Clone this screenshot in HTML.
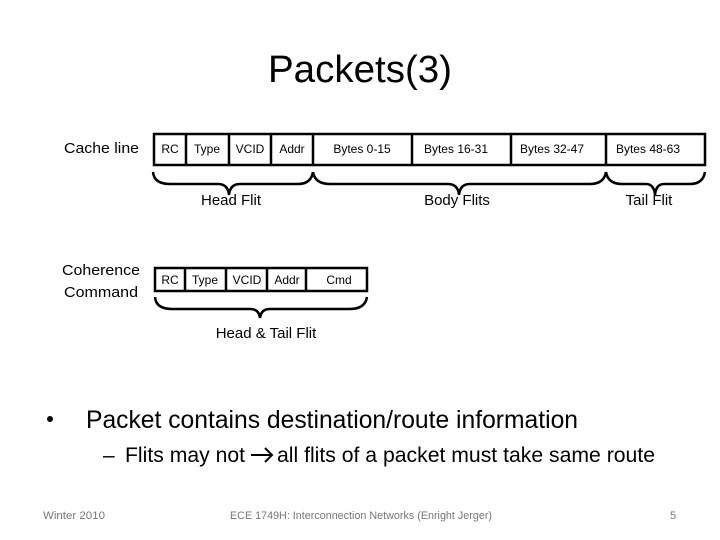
<!DOCTYPE html>
<html><head><meta charset="utf-8"><style>body{margin:0;background:#fff}svg{display:block}</style></head>
<body>
<svg width="720" height="540" xmlns="http://www.w3.org/2000/svg" font-family="Liberation Sans, sans-serif" fill="#000">
<text x="360" y="82" font-size="38" text-anchor="middle" textLength="184" lengthAdjust="spacingAndGlyphs">Packets(3)</text>
<text x="64" y="153" font-size="15" textLength="75" lengthAdjust="spacingAndGlyphs">Cache line</text>
<text x="101" y="275" font-size="15" text-anchor="middle" textLength="78" lengthAdjust="spacingAndGlyphs">Coherence</text>
<text x="101" y="297" font-size="15" text-anchor="middle" textLength="74" lengthAdjust="spacingAndGlyphs">Command</text>
<g fill="none" stroke="#000" stroke-width="2.5">
<rect x="154" y="134" width="551" height="31"/>
<path d="M186 134V165M229 134V165M271 134V165M313 134V165M412 134V165M511 134V165M606 134V165"/>
<rect x="155" y="268" width="212" height="23"/>
<path d="M185 268V291M226 268V291M267 268V291M306 268V291"/>
</g>
<g fill="none" stroke="#000" stroke-width="2.5">
<path d="M153 172Q154 184 170 184H218Q228 184 229 195Q230 184 240 184H298Q311 184 313 172"/>
<path d="M313 172Q315 184 330 184H448Q458 184 459 195Q460 184 470 184H590Q604 184 606 172"/>
<path d="M606 172Q608 184 622 184H646Q654 184 655 195Q656 184 664 184H690Q703 184 705 172"/>
<path d="M155 297Q156 309 172 309H250Q259 309 260 318Q261 309 270 309H350Q365 309 367 297"/>
</g>
<g font-size="12" text-anchor="middle">
<text x="170" y="153">RC</text><text x="207" y="153">Type</text><text x="250" y="153">VCID</text><text x="292" y="153">Addr</text>
<text x="362" y="153">Bytes 0-15</text><text x="456" y="153">Bytes 16-31</text><text x="552" y="153">Bytes 32-47</text><text x="648" y="153">Bytes 48-63</text>
<text x="170" y="284">RC</text><text x="205" y="284">Type</text><text x="247" y="284">VCID</text><text x="287" y="284">Addr</text><text x="339" y="284">Cmd</text>
</g>
<g font-size="15" text-anchor="middle">
<text x="231" y="205">Head Flit</text><text x="457" y="205">Body Flits</text><text x="649" y="205">Tail Flit</text>
<text x="266" y="338">Head &amp; Tail Flit</text>
</g>
<circle cx="50" cy="419" r="3"/>
<text x="86" y="428" font-size="25" textLength="492" lengthAdjust="spacingAndGlyphs">Packet contains destination/route information</text>
<text x="103" y="462" font-size="21">–</text>
<text x="125" y="462" font-size="21" textLength="120" lengthAdjust="spacingAndGlyphs">Flits may not</text>
<g stroke="#000" stroke-width="2" fill="none"><path d="M251 455H272M265 448L272 455L265 462"/></g>
<text x="277" y="462" font-size="21" textLength="378" lengthAdjust="spacingAndGlyphs">all flits of a packet must take same route</text>
<g font-size="11" fill="#777">
<text x="43" y="519" textLength="62" lengthAdjust="spacingAndGlyphs">Winter 2010</text>
<text x="230" y="519" textLength="262" lengthAdjust="spacingAndGlyphs">ECE 1749H: Interconnection Networks (Enright Jerger)</text>
<text x="670" y="519">5</text>
</g>
</svg>
</body></html>
